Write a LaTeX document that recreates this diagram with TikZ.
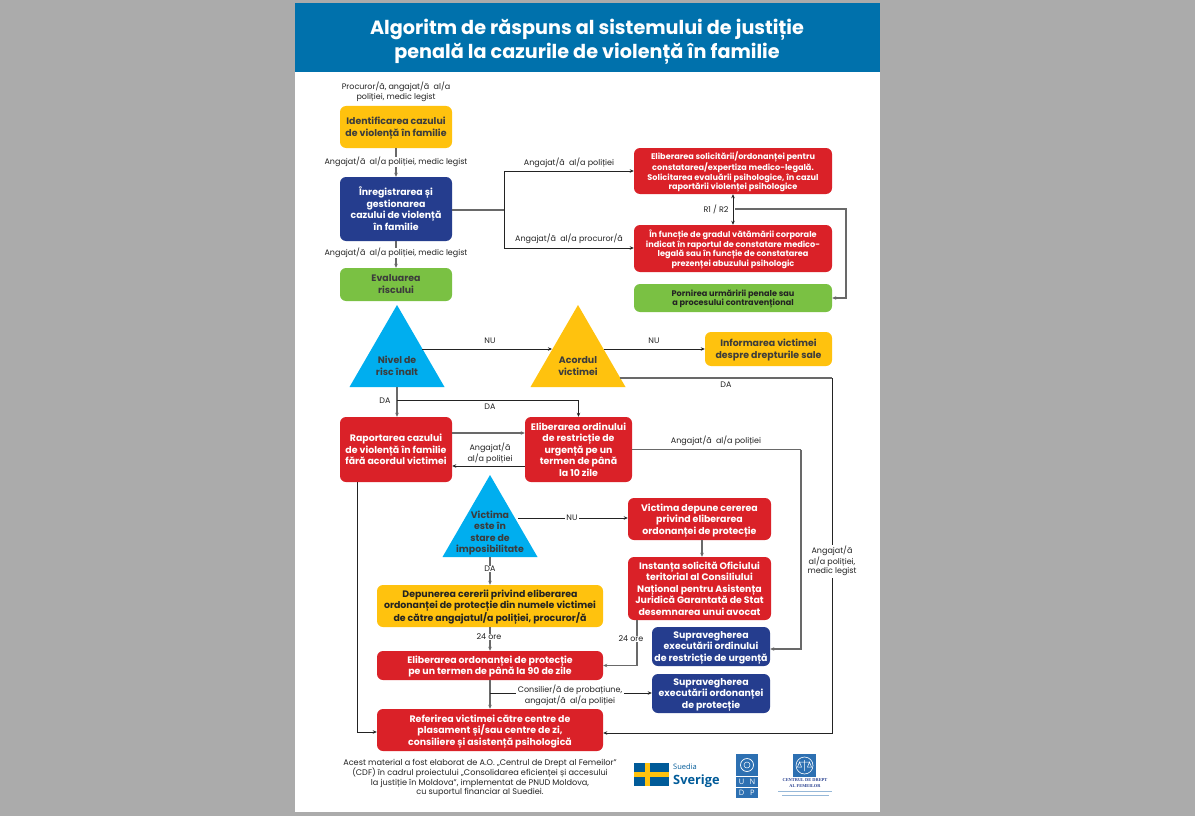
\documentclass[tikz,border=0pt]{standalone}
\usepackage{fontspec}
\setmainfont{Poppins}
\newfontfamily\logofont{Open Sans}
\newfontfamily\centrufont{Liberation Serif}
\usetikzlibrary{
    shapes.geometric,
    arrows.meta,
    calc
}
\definecolor{Cbg}{RGB}{171, 171, 171}
\definecolor{Ctitle}{RGB}{0, 113, 172}
\definecolor{Cyellow}{RGB}{255, 194, 14}
\definecolor{Cnavy}{RGB}{37, 61, 142}
\definecolor{Cred}{RGB}{218, 33, 40}
\definecolor{Cgreen}{RGB}{122, 193, 67}
\definecolor{Ccyan}{RGB}{0, 174, 239}
\definecolor{Ctext}{RGB}{60, 60, 60}
\definecolor{Cline}{RGB}{105, 105, 105}
\definecolor{Cblack}{RGB}{35, 35, 35}
\definecolor{Cundp}{RGB}{45, 112, 178}
\definecolor{Cswe}{RGB}{0, 91, 153}
\tikzset{
    abox/.style={
        rectangle, rounded corners=6pt, align=center, inner sep=0pt, text depth=0.5pt,
        font=\fontsize{9.4}{11.5}\selectfont\bfseries
    },
    smallbox/.style={font=\fontsize{8.15}{9.6}\selectfont\bfseries},
    yellowbox/.style={abox, fill=Cyellow, text=Ctext},
    greenbox/.style={abox, fill=Cgreen, text=Ctext},
    redbox/.style={abox, fill=Cred, text=white},
    navybox/.style={abox, fill=Cnavy, text=white},
    atri/.style={
        isosceles triangle, isosceles triangle apex angle=60, isosceles triangle stretches,
        shape border rotate=90, anchor=apex, inner sep=0pt, outer sep=0pt,
        minimum width=95pt, minimum height=82pt
    },
    tritext/.style={
        align=center, inner sep=0pt, text=Ctext,
        font=\fontsize{9.4}{11.6}\selectfont\bfseries
    },
    alabel/.style={
        align=center, inner sep=1.5pt, text=Cblack,
        font=\fontsize{8}{9.6}\selectfont
    },
    wlabel/.style={alabel, fill=white},
    aarr/.style={-{Stealth[length=4pt, width=3.5pt]}, line width=0.8pt, Cblack},
    garr/.style={-{Stealth[length=4pt, width=3.5pt]}, line width=1.1pt, Cline},
    bline/.style={line width=0.8pt, Cblack},
    gline/.style={line width=1.1pt, Cline},
}
\begin{document}
\begin{tikzpicture}[x=1pt, y=-1pt]

    % background and page
    \useasboundingbox (0,0) rectangle (1195,816);
    \fill [Cbg] (0,0) rectangle (1195,816);
    \fill [white] (295,3) rectangle (880,812);
    \fill [Ctitle] (295,3) rectangle (880,72);

    \node [text=white, align=center, inner sep=0pt, font=\fontsize{19.2}{24}\selectfont\bfseries]
        (title) at (587,41.5) {Algoritm de răspuns al sistemului de justiție\\penală la cazurile de violență în familie};

    % left column
    \node [alabel] (who) at (396,92) {Procuror/ă, angajat/ă\ \ al/a\\poliției, medic legist};
    \node [yellowbox, minimum width=112pt, minimum height=42pt]
        (identify) at (396,127) {Identificarea cazului\\de violență în familie};
    \node [navybox, minimum width=112pt, minimum height=64pt]
        (inreg) at (396,209) {Înregistrarea și\\gestionarea\\cazului de violență\\în familie};
    \node [greenbox, minimum width=112pt, minimum height=33pt]
        (evalrisc) at (396,284.5) {Evaluarea\\riscului};

    % right column, top
    \node [redbox, smallbox, minimum width=198pt, minimum height=46pt]
        (elibsol) at (733,171) {Eliberarea solicitării/ordonanței pentru\\constatarea/expertiza medico-legală.\\Solicitarea evaluării psihologice, în cazul\\raportării violenței psihologice};
    \node [redbox, smallbox, minimum width=198pt, minimum height=47pt]
        (functie) at (733,248.5) {În funcție de gradul vătămării corporale\\indicat în raportul de constatare medico-\\legală sau în funcție de constatarea\\prezenței abuzului psihologic};
    \node [greenbox, smallbox, minimum width=198pt, minimum height=28pt, text=Cblack]
        (pornire) at (733,298) {Pornirea urmăririi penale sau\\a procesului contravențional};
    \node [yellowbox, minimum width=127pt, minimum height=34pt]
        (inform) at (768.5,349) {Informarea victimei\\despre drepturile sale};

    % triangles
    \node [atri, fill=Ccyan] (nivel) at (397,305) {};
    \node [tritext] (nivelt) at (397,366) {Nivel de\\risc înalt};
    \node [atri, fill=Cyellow] (acord) at (578,305) {};
    \node [tritext] (acordt) at (578,366) {Acordul\\victimei};
    \node [atri, fill=Ccyan] (victima) at (490,475) {};
    \node [tritext] (victimat) at (490,533) {Victima\\este în\\stare de\\imposibilitate};

    % middle rows
    \node [redbox, minimum width=112pt, minimum height=65pt]
        (raport) at (396,449.5) {Raportarea cazului\\de violență în familie\\fără acordul victimei};
    \node [redbox, minimum width=107pt, minimum height=65pt]
        (eliord) at (578.5,449.5) {Eliberarea ordinului\\de restricție de\\urgență pe un\\termen de până\\la 10 zile};
    \node [redbox, minimum width=143pt, minimum height=42pt]
        (vdepune) at (699.5,519) {Victima depune cererea\\privind eliberarea\\ordonanței de protecție};
    \node [redbox, minimum width=143pt, minimum height=63pt]
        (instanta) at (699.5,588.5) {Instanța solicită Oficiului\\teritorial al Consiliului\\Național pentru Asistența\\Juridică Garantată de Stat\\desemnarea unui avocat};
    \node [navybox, minimum width=118pt, minimum height=39pt]
        (supord) at (711,646.5) {Supravegherea\\executării ordinului\\de restricție de urgență};
    \node [navybox, minimum width=118pt, minimum height=39pt]
        (supprot) at (711,693.5) {Supravegherea\\executării ordonanței\\de protecție};

    % bottom column
    \node [yellowbox, minimum width=226pt, minimum height=42pt, text=Cblack]
        (depun) at (490,606) {Depunerea cererii privind eliberarea\\ordonanței de protecție din numele victimei\\de către angajatul/a poliției, procuror/ă};
    \node [redbox, minimum width=226pt, minimum height=29pt]
        (elibprot) at (490,665.5) {Eliberarea ordonanței de protecție\\pe un termen de până la 90 de zile};
    \node [redbox, minimum width=226pt, minimum height=42pt]
        (referire) at (490,730) {Referirea victimei către centre de\\plasament și/sau centre de zi,\\consiliere și asistență psihologică};

    % route points
    \coordinate (forkA) at (504,210);
    \coordinate (forkB) at (504,171);
    \coordinate (forkC) at (504,248);
    \coordinate (rtop) at (735,209);
    \coordinate (rright) at (846,209);
    \coordinate (nivrow) at (0,349);
    \coordinate (acordlow) at (832,378);
    \coordinate (acordend) at (832,733);
    \coordinate (dafork) at (397,400);
    \coordinate (dafork2) at (578.5,400);
    \coordinate (rowA) at (0,433);
    \coordinate (rowB) at (0,466);
    \coordinate (ordright) at (801,449.5);
    \coordinate (ordend) at (801,649);
    \coordinate (vrow) at (0,518);
    \coordinate (instdown) at (637,620);
    \coordinate (instlow) at (637,665.5);
    \coordinate (probfork) at (490,693);
    \coordinate (rapdown) at (357,482);
    \coordinate (raplow) at (357,732);

    % arrows
    \draw [garr] (identify) -- (inreg);
    \draw [garr] (inreg) -- (evalrisc);
    \draw [gline] (inreg.east |- forkA) -- (forkA);
    \draw [aarr] (elibsol.west -| forkB) -- (elibsol.west);
    \draw [bline] (forkB) -- (forkC);
    \draw [aarr] (forkC) -- (forkC -| functie.west);
    \draw [aarr, {Stealth[length=4pt, width=3.5pt]}-{Stealth[length=4pt, width=3.5pt]}]
        (elibsol.south) -- (functie.north);
    \draw [garr] (rtop) -- (rright) |- (pornire.east);
    \draw [aarr] (nivrow -| 422,0) -- (nivrow -| 552,0);
    \draw [aarr] (nivrow -| 604,0) -- (inform.west);
    \draw [gline] (620,378) -- (acordlow);
    \draw [aarr] (acordlow) -- (acordend) -- (referire.east |- acordend);
    \draw [garr] (397,387) -- (raport.north -| 397,0);
    \draw [bline] (dafork) -- (dafork2);
    \draw [aarr] (dafork2) -- (eliord.north);
    \draw [garr] (raport.east |- rowA) -- (eliord.west |- rowA);
    \draw [aarr] (eliord.west |- rowB) -- (raport.east |- rowB);
    \draw [gline] (eliord.east) -- (ordright);
    \draw [garr] (ordright) -- (ordend) -- (supord.east |- ordend);
    \draw [aarr] (518,518) -- (vdepune.west |- vrow);
    \draw [garr] (490,557) -- (depun.north);
    \draw [garr] (vdepune.south -| 702,0) -- (instanta.north -| 702,0);
    \draw [garr] (depun) -- (elibprot);
    \draw [gline] (instdown) -- (instlow);
    \draw [garr] (instlow) -- (elibprot.east |- instlow);
    \draw [garr] (elibprot) -- (referire);
    \draw [aarr] (probfork) -- (supprot.west |- probfork);
    \draw [aarr, Cblack] (rapdown) -- (raplow) -- (referire.west |- raplow);

    % connector labels
    \node [wlabel, inner ysep=0.5pt] (la1) at (396,162) {Angajat/ă\ \ al/a poliției, medic legist};
    \node [wlabel, inner ysep=0.5pt] (la2) at (396,253) {Angajat/ă\ \ al/a poliției, medic legist};
    \node [alabel] (la3) at (569,163) {Angajat/ă\ \ al/a poliției};
    \node [alabel] (la4) at (569,239) {Angajat/ă\ \ al/a procuror/ă};
    \node [alabel] (rr) at (716,209) {R1 / R2};
    \node [alabel] (nu1) at (490,341) {NU};
    \node [alabel] (nu2) at (654,341) {NU};
    \node [alabel] (da1) at (726,385) {DA};
    \node [alabel] (da2) at (385,401) {DA};
    \node [alabel] (da3) at (490,407) {DA};
    \node [alabel] (la5) at (490,453) {Angajat/ă\\al/a poliției};
    \node [alabel] (la6) at (716,441) {Angajat/ă\ \ al/a poliției};
    \node [wlabel] (la7) at (832,561) {Angajat/ă\\al/a poliției,\\medic legist};
    \node [wlabel] (nu3) at (572,518) {NU};
    \node [wlabel, inner ysep=0.5pt] (da4) at (490,569) {DA};
    \node [wlabel, inner ysep=0.5pt] (o1) at (489,637) {24 ore};
    \node [wlabel, inner sep=0.5pt] (o2) at (631,639) {24 ore};
    \node [wlabel] (la8) at (570,695) {Consilier/ă de probațiune,\\angajat/ă\ \ al/a poliției};

    % footer text
    \node [align=center, inner sep=0pt, text=Cblack, font=\fontsize{8.15}{9.5}\selectfont]
        (foot) at (480,778) {Acest material a fost elaborat de A.O. „Centrul de Drept al Femeilor”\\(CDF) în cadrul proiectului „Consolidarea eficienței și accesului\\la justiție în Moldova”, implementat de PNUD Moldova,\\cu suportul financiar al Suediei.};

    % logo Sweden
    \fill [Cswe] (634,763) rectangle (669,786);
    \fill [Cyellow] (645,763) rectangle (650,786);
    \fill [Cyellow] (634,772) rectangle (669,776.5);
    \node [anchor=west, inner sep=0pt, text=Cswe, font=\logofont\fontsize{7.5}{9}\selectfont]
        (suedia) at (673,767) {Suedia};
    \node [anchor=west, inner sep=0pt, text=Cswe, font=\logofont\bfseries\fontsize{12.8}{16}\selectfont]
        (sverige) at (673,781) {Sverige};

    % logo UNDP
    \fill [Cundp] (736,754) rectangle (758,776);
    \draw [white, line width=0.7pt] (747,765) circle (6.5);
    \draw [white, line width=0.5pt] (747,765) circle (3);
    \foreach \lx/\ly/\lt in {741.5/782/U, 752.5/782/N, 741.5/793/D, 752.5/793/P} {
        \fill [Cundp] (\lx-5.25,\ly-5.25) rectangle (\lx+5.25,\ly+5.25);
        \node [text=white, inner sep=0pt, font=\logofont\fontsize{7.5}{9}\selectfont] at (\lx,\ly) {\lt};
    }

    % logo Centrul
    \fill [Cundp] (793,754) rectangle (816,777);
    \draw [white, line width=0.6pt] (804.5,765.5) circle (8.5);
    \draw [white, line width=0.5pt] (804.5,760) -- (804.5,771) (799.5,762) -- (809.5,762)
        (797.5,767) -- (799.5,762) -- (801.5,767) -- cycle (807.5,767) -- (809.5,762) -- (811.5,767) -- cycle;
    \node [align=center, inner sep=0pt, text=Cnavy, font=\centrufont\bfseries\fontsize{4.4}{5.6}\selectfont]
        (centrul) at (805,783) {CENTRUL DE DREPT\\AL FEMEILOR};
    \draw [Cundp!50, line width=0.8pt] (778,791) -- (832,791) (782,795) -- (829,795);

\end{tikzpicture}
\end{document}
